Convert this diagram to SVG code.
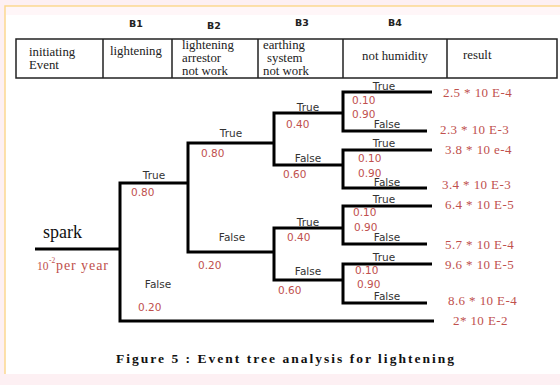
<svg xmlns="http://www.w3.org/2000/svg" width="560" height="385" viewBox="0 0 560 385">
<style>
.bg{fill:#fdf0f3}
.hd{font-family:"DejaVu Sans",sans-serif;font-weight:bold;font-size:9.5px;fill:#222;text-anchor:middle}
.cell{fill:none;stroke:#222;stroke-width:1.5}
.tt{font-family:"Liberation Serif",serif;font-size:12.8px;fill:#222}
.br{fill:none;stroke:#000;stroke-width:3;stroke-linejoin:miter}
.lb{font-family:"DejaVu Sans",sans-serif;font-size:10.5px;fill:#333;text-anchor:middle}
.pr{font-family:"DejaVu Sans",sans-serif;font-size:10.5px;fill:#c0504d}
.res{font-family:"Liberation Serif",serif;font-size:13px;fill:#c0504d;letter-spacing:0.4px}
.cap{font-family:"Liberation Serif",serif;font-weight:bold;font-size:13.5px;fill:#111}
</style>
<rect class="bg" x="0" y="0" width="560" height="385"/>
<rect x="5" y="6" width="560" height="368" fill="#fff"/>
<rect x="6" y="7" width="560" height="8" fill="#fff6f8"/>
<path d="M5 374 V6 H560" fill="none" stroke="#fcd890" stroke-width="1.5"/>

<g id="header-labels">
<text class="hd" x="136" y="27">B1</text>
<text class="hd" x="214" y="28.5">B2</text>
<text class="hd" x="302" y="26">B3</text>
<text class="hd" x="395" y="26">B4</text>
</g>

<g id="table">
<rect class="cell" x="16" y="39" width="541" height="39"/>
<path class="cell" d="M103 39 V78 M172 39 V78 M258 39 V78 M343 39 V78 M447 39 V78"/>
<g id="col-initiating"><text class="tt" x="29" y="56">initiating</text><text class="tt" x="29" y="69">Event</text></g>
<g id="col-b1"><text class="tt" x="110" y="55">lightening</text></g>
<g id="col-b2"><text class="tt" x="182" y="49">lightening</text><text class="tt" x="182" y="62">arrestor</text><text class="tt" x="182" y="74.5">not work</text></g>
<g id="col-b3"><text class="tt" x="263" y="49">earthing</text><text class="tt" x="267" y="62">system</text><text class="tt" x="263" y="74.5">not work</text></g>
<g id="col-b4"><text class="tt" x="395" y="60" text-anchor="middle">not humidity</text></g>
<g id="col-result"><text class="tt" x="463" y="59">result</text></g>
</g>

<g id="connectors">
<path class="br" d="M35 249 H120"/>
<path class="br" d="M188 183 H120 V321 H434"/>
<path class="br" d="M274 143 H188 V252 H274"/>
<path class="br" d="M343 113 H274 V165 H343"/>
<path class="br" d="M343 228 H274 V280 H343"/>
<path class="br" d="M432 92 H343 V131 H427"/>
<path class="br" d="M432 150 H343 V188 H427"/>
<path class="br" d="M432 206 H343 V244 H427"/>
<path class="br" d="M432 264 H343 V303 H427"/>
</g>

<g id="spark">
<text x="43" y="238" font-family="Liberation Serif, serif" font-size="18" fill="#111">spark</text>
<text font-family="Liberation Serif, serif" fill="#c0504d" y="270"><tspan x="37" font-size="11.5">10</tspan><tspan x="49" y="263" font-size="7.5">-2</tspan><tspan x="56" y="270" font-size="14" textLength="52">per year</tspan></text>
</g>

<g id="b1-split">
<text class="lb" x="154" y="179">True</text>
<text class="pr" x="131" y="196">0.80</text>
<text class="lb" x="158" y="288">False</text>
<text class="pr" x="138" y="311">0.20</text>
</g>

<g id="b2-split">
<text class="lb" x="231" y="137">True</text>
<text class="pr" x="201" y="157">0.80</text>
<text class="lb" x="232" y="241">False</text>
<text class="pr" x="198" y="269">0.20</text>
</g>

<g id="b3-split-a">
<text class="lb" x="308" y="111">True</text>
<text class="pr" x="286" y="128">0.40</text>
<text class="lb" x="308" y="162">False</text>
<text class="pr" x="283" y="178">0.60</text>
</g>

<g id="b3-split-b">
<text class="lb" x="308" y="226">True</text>
<text class="pr" x="287" y="241">0.40</text>
<text class="lb" x="308" y="275">False</text>
<text class="pr" x="278" y="294">0.60</text>
</g>

<g id="b4-split-a">
<text class="lb" x="384" y="90">True</text>
<text class="pr" x="352" y="103.5">0.10</text>
<text class="pr" x="352" y="118">0.90</text>
<text class="lb" x="387" y="128">False</text>
</g>
<g id="b4-split-b">
<text class="lb" x="384" y="147">True</text>
<text class="pr" x="358" y="162">0.10</text>
<text class="pr" x="358" y="176.5">0.90</text>
<text class="lb" x="387" y="185.5">False</text>
</g>
<g id="b4-split-c">
<text class="lb" x="384" y="203">True</text>
<text class="pr" x="353" y="215.5">0.10</text>
<text class="pr" x="354" y="231">0.90</text>
<text class="lb" x="387" y="241">False</text>
</g>
<g id="b4-split-d">
<text class="lb" x="384" y="261">True</text>
<text class="pr" x="355" y="273.5">0.10</text>
<text class="pr" x="357" y="288">0.90</text>
<text class="lb" x="387" y="300">False</text>
</g>

<g id="results">
<g id="r1"><text class="res" x="443" y="97">2.5 * 10 E-4</text></g>
<g id="r2"><text class="res" x="440" y="134">2.3 * 10 E-3</text></g>
<g id="r3"><text class="res" x="445" y="154">3.8 * 10 e-4</text></g>
<g id="r4"><text class="res" x="442" y="189">3.4 * 10 E-3</text></g>
<g id="r5"><text class="res" x="445" y="209">6.4 * 10 E-5</text></g>
<g id="r6"><text class="res" x="445" y="249">5.7 * 10 E-4</text></g>
<g id="r7"><text class="res" x="445" y="269">9.6 * 10 E-5</text></g>
<g id="r8"><text class="res" x="448" y="305">8.6 * 10 E-4</text></g>
<g id="r9"><text class="res" x="453" y="325">2* 10 E-2</text></g>
</g>

<g id="caption">
<text class="cap" x="116" y="363" textLength="338" lengthAdjust="spacing">Figure  5 : Event tree analysis for lightening</text>
</g>
</svg>
